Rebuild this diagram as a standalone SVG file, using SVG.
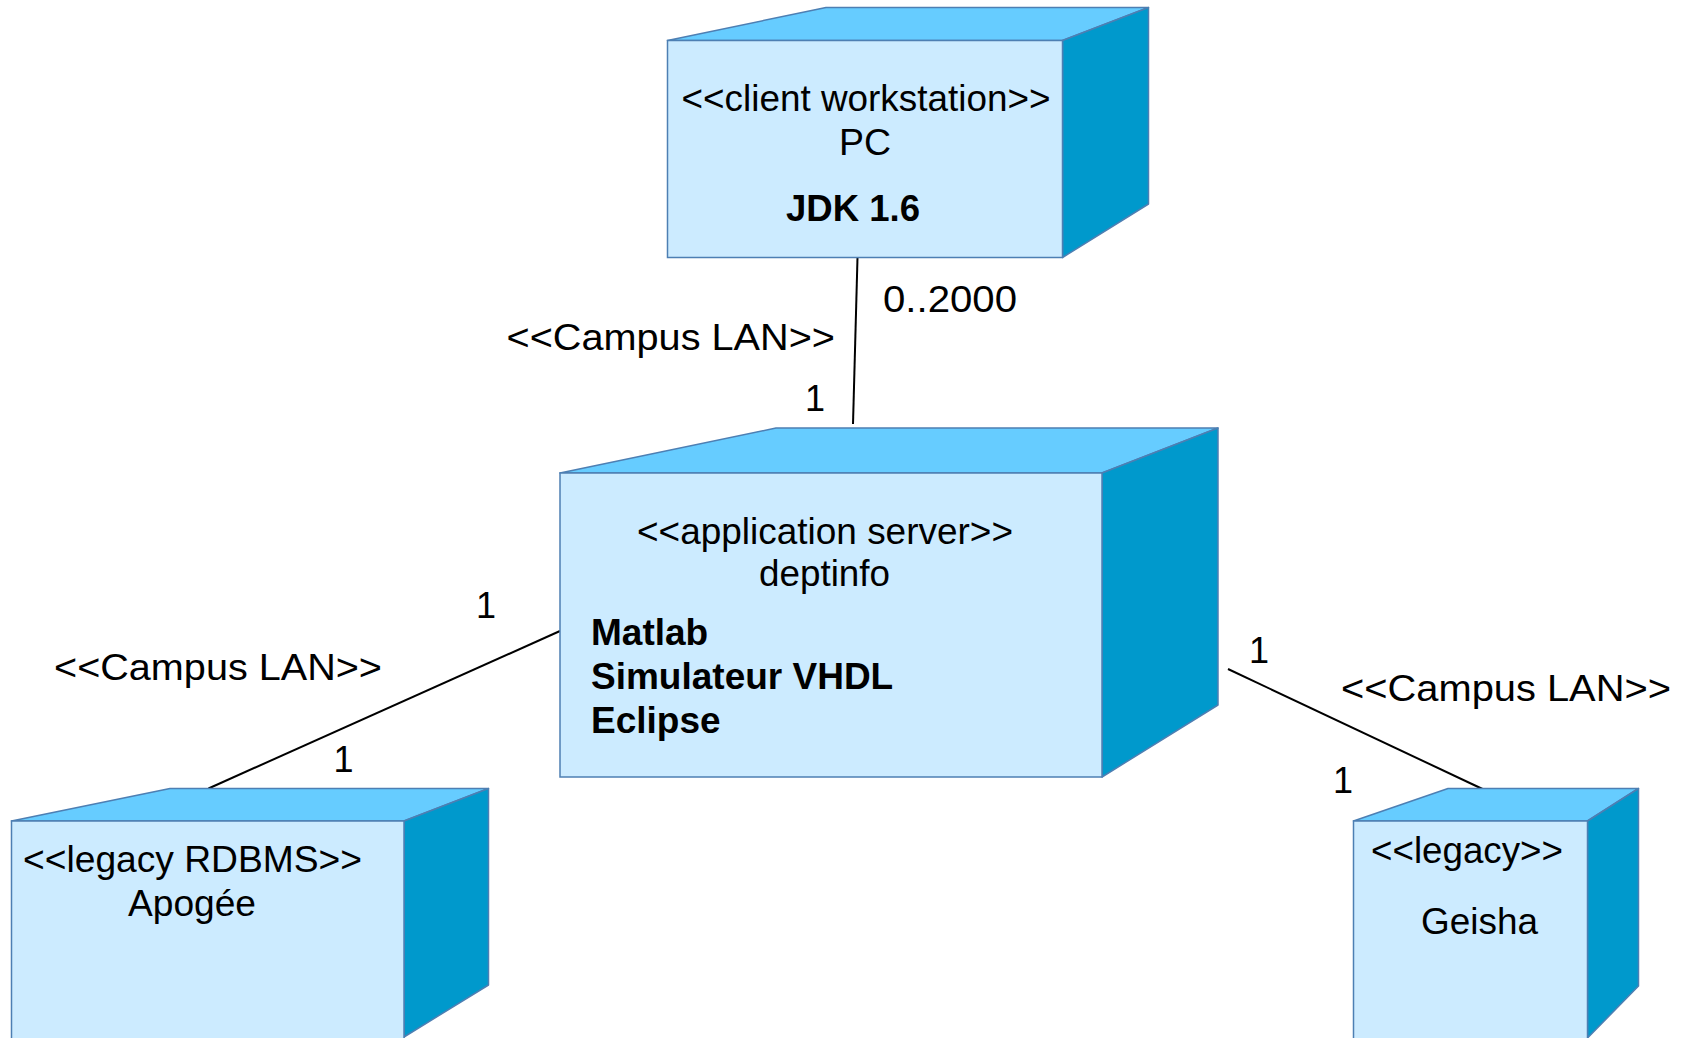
<svg xmlns="http://www.w3.org/2000/svg" width="1683" height="1038" viewBox="0 0 1683 1038">
<style>
.front{fill:#CCEBFF;stroke:#4D7FB3;stroke-width:1.5}
.top{fill:#66CCFF;stroke:#4D7FB3;stroke-width:1.5;stroke-linejoin:round}
.side{fill:#0099CC;stroke:#4D7FB3;stroke-width:1.5;stroke-linejoin:round}
.t{font-family:"Liberation Sans",Arial,sans-serif;font-size:36px;fill:#000}
.m{text-anchor:middle}
.b{font-family:"Liberation Sans",Arial,sans-serif;font-weight:bold;font-size:37px;fill:#000}
.conn{stroke:#000;stroke-width:2;fill:none}
</style>
<rect width="1683" height="1038" fill="#fff"/>
<g id="connectors">
<line class="conn" x1="857.5" y1="257.5" x2="853" y2="424"/>
<line class="conn" x1="560" y1="631" x2="208.5" y2="788.5"/>
<line class="conn" x1="1228" y1="669" x2="1482.5" y2="789"/>
<text class="t" x="883" y="312" textLength="134" lengthAdjust="spacingAndGlyphs">0..2000</text>
<text class="t" x="506.5" y="350" textLength="328.5" lengthAdjust="spacingAndGlyphs">&lt;&lt;Campus LAN&gt;&gt;</text>
<text class="t m" x="815" y="411">1</text>
<text class="t m" x="486" y="618">1</text>
<text class="t" x="54" y="680" textLength="328" lengthAdjust="spacingAndGlyphs">&lt;&lt;Campus LAN&gt;&gt;</text>
<text class="t m" x="343.5" y="772">1</text>
<text class="t m" x="1259" y="663">1</text>
<text class="t" x="1341" y="701" textLength="330" lengthAdjust="spacingAndGlyphs">&lt;&lt;Campus LAN&gt;&gt;</text>
<text class="t m" x="1343" y="793">1</text>
</g>
<g id="node-pc">
<polygon class="top" points="667.5,40.5 826,7.5 1148.5,7.5 1062.5,40.5"/>
<polygon class="side" points="1062.5,40.5 1148.5,7.5 1148.5,204 1062.5,257.5"/>
<rect class="front" x="667.5" y="40.5" width="395" height="217"/>
<text class="t" x="681.5" y="111" textLength="369" lengthAdjust="spacingAndGlyphs">&lt;&lt;client workstation&gt;&gt;</text>
<text class="t" x="839" y="155" textLength="52" lengthAdjust="spacingAndGlyphs">PC</text>
<text class="b" x="786" y="221" textLength="134" lengthAdjust="spacingAndGlyphs">JDK 1.6</text>
</g>
<g id="node-deptinfo">
<polygon class="top" points="560,473 776,428 1218,428 1102,473"/>
<polygon class="side" points="1102,473 1218,428 1218,705 1102,777"/>
<rect class="front" x="560" y="473" width="542" height="304"/>
<text class="t" x="637" y="544" textLength="376" lengthAdjust="spacingAndGlyphs">&lt;&lt;application server&gt;&gt;</text>
<text class="t" x="759" y="586" textLength="131" lengthAdjust="spacingAndGlyphs">deptinfo</text>
<text class="b" x="591" y="645">Matlab</text>
<text class="b" x="591" y="689">Simulateur VHDL</text>
<text class="b" x="591" y="733">Eclipse</text>
</g>
<g id="node-apogee">
<polygon class="top" points="11.5,821 170,788.5 488.5,788.5 404,821"/>
<polygon class="side" points="404,821 488.5,788.5 488.5,985 404,1037"/>
<rect class="front" x="11.5" y="821" width="392.5" height="230"/>
<text class="t" x="23" y="872" textLength="339" lengthAdjust="spacingAndGlyphs">&lt;&lt;legacy RDBMS&gt;&gt;</text>
<text class="t" x="128" y="916" textLength="128" lengthAdjust="spacingAndGlyphs">Apogée</text>
</g>
<g id="node-geisha">
<polygon class="top" points="1353.5,821 1448,788.5 1638.5,788.5 1587.5,821"/>
<polygon class="side" points="1587.5,821 1638.5,788.5 1638.5,986 1587.5,1038"/>
<rect class="front" x="1353.5" y="821" width="234" height="230"/>
<text class="t" x="1371" y="863" textLength="192" lengthAdjust="spacingAndGlyphs">&lt;&lt;legacy&gt;&gt;</text>
<text class="t" x="1421" y="934" textLength="117" lengthAdjust="spacingAndGlyphs">Geisha</text>
</g>
</svg>
